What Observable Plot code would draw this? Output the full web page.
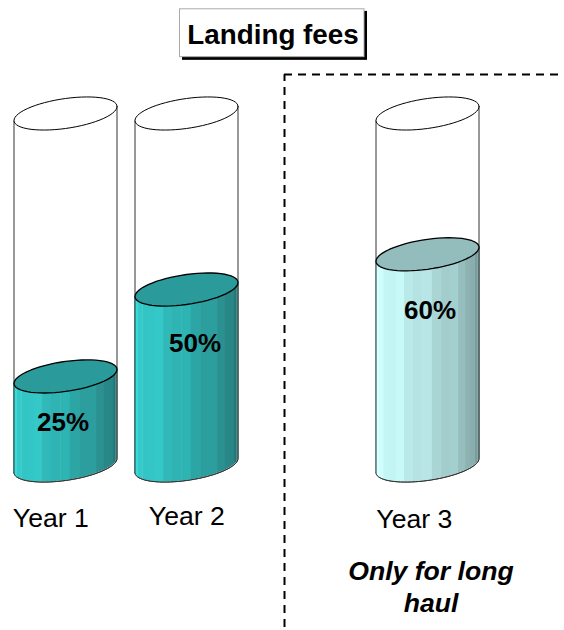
<!DOCTYPE html>
<html>
<head>
<meta charset="utf-8">
<script src="https://cdn.jsdelivr.net/npm/d3@7"></script>
<script src="https://cdn.jsdelivr.net/npm/@observablehq/plot@0.6"></script>
<style>
html,body{margin:0;padding:0;background:#fff}
svg{display:block}
</style>
</head>
<body>
<div id="chart"></div>
<script>
const years = ["Year 1", "Year 2", "Year 3"];
const shares = [25, 50, 60];
const levels = [25.3, 50, 60];
const titleText = "Landing fees";
const noteLines = ["Only for long", "haul"];

// layout of the picture (not data)
const centres = [65, 186, 427];
const labelXs = [62.5, 194.5, 429.5];
const labelOffsets = [12.2, 34.6, 44];
const yearXs = [50.3, 186.3, 413.8];
const yearOffsets = [-15, -14.5, -15.3];
const ramps = [
  ["#30bebe", "#34c6c6", "#2dacac", "#2a9090", "#216f6f"],
  ["#30bebe", "#34c6c6", "#2dacac", "#2a9090", "#216f6f"],
  ["#c4f7f7", "#c4f5f5", "#b0dcdc", "#96bebe", "#6f8f8f"]
];
const surfaces = ["#2a9a9a", "#2a9a9a", "#93bdbd"];
const halfWidth = 51.5, unit = 3.52, tilt = 7 / unit, depth = 15 / unit;
const stripCount = 17;

const ellipseAt = (cx, level) => d3.range(0, 61).map(i => {
  const t = i / 60 * 2 * Math.PI;
  return {x: cx + halfWidth * Math.cos(t), y: level + tilt * Math.cos(t) + depth * Math.sin(t)};
});
const frontEdge = (cx, level, t0, t1, n = 6) => d3.range(n + 1).map(i => {
  const t = t0 + (t1 - t0) * i / n;
  return {x: cx + halfWidth * Math.cos(t), y: level + tilt * Math.cos(t) - depth * Math.sin(t), t};
});

const strips = [];
years.forEach((year, k) => {
  const ramp = d3.scaleLinear().domain(d3.range(5).map(i => i / 4)).range(ramps[k]).interpolate(d3.interpolateRgb);
  d3.range(stripCount).forEach(s => {
    const t0 = Math.PI * (1 - s / stripCount), t1 = Math.PI * (1 - (s + 1) / stripCount);
    const base = d3.color(ramp(s / (stripCount - 1)));
    const fill = (s === 1 ? base.brighter(0.35) : s % 3 === 2 ? base.brighter(0.12) : base).formatHex();
    frontEdge(centres[k], 0, t0, t1 + (s < stripCount - 1 ? -0.01 : 0)).forEach(p => {
      strips.push({x: p.x, y1: p.y, y2: levels[k] + tilt * Math.cos(p.t), z: year + s, fill});
    });
  });
});

const plot = Plot.plot({
  width: 564, height: 630,
  margin: 0,
  x: {domain: [0, 564], range: [0, 564], axis: null},
  y: {domain: [-46.875, 132.1], range: [630, 0], axis: null},
  color: {type: "identity"},
  marks: [
    // divider
    Plot.ruleX([284], {y1: -46, y2: 111, stroke: "#000", strokeWidth: 2, strokeDasharray: "8,6"}),
    Plot.ruleY([111.1], {x1: 284, x2: 564, stroke: "#000", strokeWidth: 2, strokeDasharray: "8,6"}),
    // title box
    Plot.rect([0], {x1: 182, x2: 367, y1: 115.1, y2: 129, fill: "#000"}),
    Plot.rect([0], {x1: 179.5, x2: 364, y1: 116, y2: 129.6, fill: "#fff", stroke: "#aaa", strokeWidth: 1}),
    Plot.text([titleText], {x: 272.5, y: 122.2, text: d => d, fontFamily: "Liberation Sans", fontWeight: "bold", fontSize: 27.8, fill: "#000"}),
    // glass cylinders
    ...years.map((y, k) => Plot.line(
      [...frontEdge(centres[k], 0, Math.PI, 0, 40), {x: centres[k] + halfWidth, y: 100 + tilt}, {x: centres[k] - halfWidth, y: 100 - tilt}, {x: centres[k] - halfWidth, y: -tilt}],
      {x: "x", y: "y", stroke: "#333", strokeWidth: 1, fill: "#fff"})),
    // liquid
    Plot.areaY(strips, {x: "x", y1: "y1", y2: "y2", z: "z", fill: "fill"}),
    ...years.map((y, k) => Plot.line(frontEdge(centres[k], 0, Math.PI, 0, 40), {x: "x", y: "y", stroke: "#333", strokeWidth: 1})),
    ...years.map((y, k) => Plot.ruleX([centres[k] - halfWidth], {y1: -tilt, y2: levels[k] - tilt, stroke: "#2b4a4a", strokeWidth: 1})),
    ...years.map((y, k) => Plot.ruleX([centres[k] + halfWidth], {y1: tilt, y2: levels[k] + tilt, stroke: "#2b4a4a", strokeWidth: 1})),
    // liquid surfaces and mouths
    ...years.map((y, k) => Plot.line(ellipseAt(centres[k], levels[k]), {x: "x", y: "y", stroke: "#000", strokeWidth: 1.3, fill: surfaces[k]})),
    ...years.map((y, k) => Plot.line(ellipseAt(centres[k], 100), {x: "x", y: "y", stroke: "#000", strokeWidth: 1, fill: "#fff"})),
    // labels
    Plot.text(shares, {x: (d, i) => labelXs[i], y: (d, i) => labelOffsets[i], text: d => d + "%", fontFamily: "Liberation Sans", fontWeight: "bold", fontSize: 26, fill: "#000"}),
    Plot.text(years, {x: (d, i) => yearXs[i], y: (d, i) => yearOffsets[i], text: d => d, fontFamily: "Liberation Sans", fontSize: 26.6, fill: "#000"}),
    Plot.text(noteLines, {x: 430.5, y: (d, i) => -(106 + 32 * i) / unit, text: d => d, fontFamily: "Liberation Sans", fontWeight: "bold", fontStyle: "italic", fontSize: 26.6, fill: "#000"})
  ]
});
document.getElementById("chart").appendChild(plot);
</script>
</body>
</html>
